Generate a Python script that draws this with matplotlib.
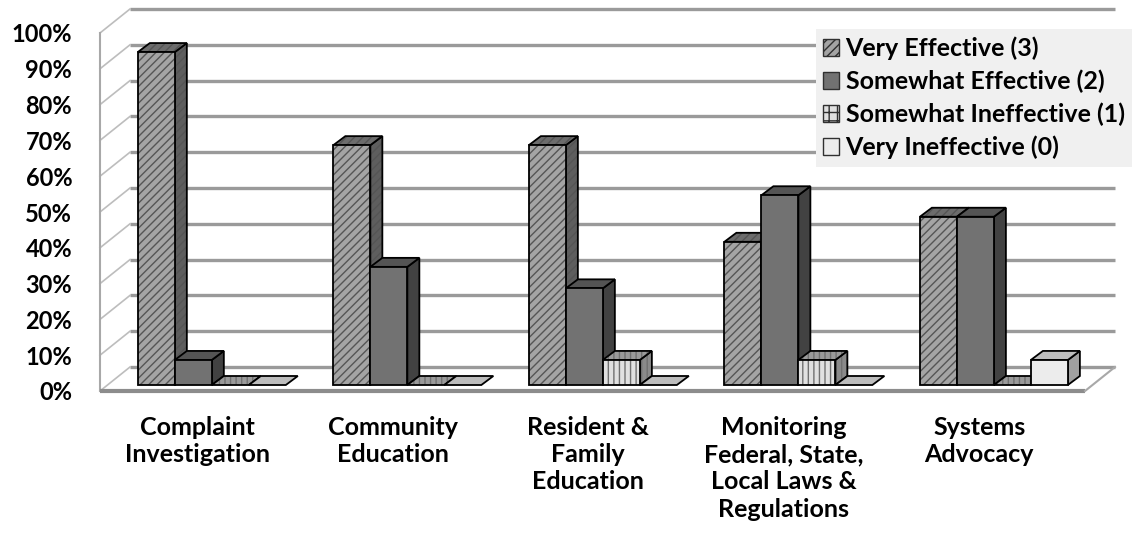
import matplotlib
matplotlib.use("Agg")
import matplotlib.pyplot as plt
from matplotlib.patches import Polygon, Patch

# ---------------- data ----------------
categories = ["Complaint\nInvestigation", "Community\nEducation",
              "Resident &\nFamily\nEducation",
              "Monitoring\nFederal, State,\nLocal Laws &\nRegulations",
              "Systems\nAdvocacy"]
series_names = ["Very Effective (3)", "Somewhat Effective (2)",
                "Somewhat Ineffective (1)", "Very Ineffective (0)"]
very_effective = [0.93, 0.67, 0.67, 0.40, 0.47]
somewhat_effective = [0.07, 0.33, 0.27, 0.53, 0.47]
somewhat_ineffective = [0.0, 0.0, 0.07, 0.07, 0.0]
very_ineffective = [0.0, 0.0, 0.0, 0.0, 0.07]
y_ticks = [0.0, 0.1, 0.2, 0.3, 0.4, 0.5, 0.6, 0.7, 0.8, 0.9, 1.0]
y_tick_labels = ["0%", "10%", "20%", "30%", "40%", "50%", "60%", "70%", "80%", "90%", "100%"]

series_values = [very_effective, somewhat_effective, somewhat_ineffective, very_ineffective]

# ---------------- styles ----------------
styles = [
    dict(front="#a4a4a4", side="#5e5e5e", top="#6c6c6c", hatch="////", hcolor="#555555"),
    dict(front="#727272", side="#424242", top="#545454", hatch=None, hcolor=None),
    dict(front="#e0e0e0", side="#8a8a8a", top="#9a9a9a", hatch="|||", hcolor="#707070"),
    dict(front="#ececec", side="#a0a0a0", top="#bdbdbd", hatch=None, hcolor=None),
]
legend_hatches = ["////", None, "++", None]

plt.rcParams["font.family"] = ["Lato", "DejaVu Sans"]
plt.rcParams["hatch.linewidth"] = 1.0

W, H = 1132, 542
fig = plt.figure(figsize=(W / 100, H / 100), dpi=100)

# axes = front plane of the pseudo-3D chart (pixel geometry)
ax_left_px, ax_right_px, ax_bottom_px, ax_top_px = 100, 1085, 391, 33
ax = fig.add_axes([ax_left_px / W, (H - ax_bottom_px) / H,
                   (ax_right_px - ax_left_px) / W, (ax_bottom_px - ax_top_px) / H])
ax.set_frame_on(False)

xmin, xmax = -0.572, 4.466
ax.set_xlim(xmin, xmax)
ax.set_ylim(0, 1)
px_x = (ax_right_px - ax_left_px) / (xmax - xmin)   # pixels per x unit
px_y = (ax_bottom_px - ax_top_px) / 1.0             # pixels per y unit

# depth offsets (pixels -> data)
back_dx, back_dy = 30 / px_x, 24 / px_y
bar_dx, bar_dy = 12 / px_x, 9 / px_y
bar_base = 6 / px_y
bar_w = 37 / px_x
n_series = len(series_values)
group_w = n_series * bar_w

# ---------------- walls / gridlines ----------------
for v in y_ticks:
    ax.plot([xmin + back_dx, xmax + back_dx], [v + back_dy, v + back_dy],
            color="#9a9a9a", lw=2.4, clip_on=False, zorder=1, solid_capstyle="butt")
    ax.plot([xmin, xmin + back_dx], [v, v + back_dy], color="#bdbdbd", lw=1.2,
            clip_on=False, zorder=1)
ax.plot([xmin, xmin], [0, 1], color="#a8a8a8", lw=1.5, clip_on=False, zorder=1)
ax.plot([xmin, xmax], [0, 0], color="#8c8c8c", lw=3, clip_on=False, zorder=1,
        solid_capstyle="butt")
ax.plot([xmax, xmax + back_dx], [0, back_dy], color="#a8a8a8", lw=1.5, clip_on=False,
        zorder=1)


def face(pts, fc, hatch, hcolor, z):
    ax.add_patch(Polygon(pts, closed=True, facecolor=fc, edgecolor="none", lw=0,
                         zorder=z, clip_on=False))
    if hatch:
        ax.add_patch(Polygon(pts, closed=True, fill=False, hatch=hatch,
                             edgecolor=hcolor, lw=0, zorder=z, clip_on=False))
    ax.add_patch(Polygon(pts, closed=True, fill=False, edgecolor="black", lw=1.3,
                         zorder=z, clip_on=False, joinstyle="miter"))


z = 3
for i in range(len(categories)):
    for k in range(n_series):
        h = series_values[k][i]
        st = styles[k]
        x0 = i - group_w / 2 + k * bar_w
        b = bar_base
        side = [(x0 + bar_w, b), (x0 + bar_w + bar_dx, b + bar_dy),
                (x0 + bar_w + bar_dx, b + h + bar_dy), (x0 + bar_w, b + h)]
        top = [(x0, b + h), (x0 + bar_dx, b + h + bar_dy),
               (x0 + bar_w + bar_dx, b + h + bar_dy), (x0 + bar_w, b + h)]
        front = [(x0, b), (x0 + bar_w, b), (x0 + bar_w, b + h), (x0, b + h)]
        if h > 0:
            face(side, st["side"], st["hatch"], st["hcolor"], z)
            face(top, st["top"], st["hatch"], st["hcolor"], z)
            face(front, st["front"], st["hatch"], st["hcolor"], z)
        else:
            face(top, st["top"], st["hatch"], st["hcolor"], z)
        z += 1

# ---------------- ticks ----------------
ax.set_yticks(y_ticks)
ax.set_yticklabels(y_tick_labels, fontsize=17, fontweight="bold")
ax.tick_params(axis="y", length=0, pad=20)
ax.set_xticks([i - 0.075 for i in range(len(categories))])
ax.set_xticklabels(categories, fontsize=18, fontweight="bold", linespacing=1.22)
ax.tick_params(axis="x", length=0, pad=18)

# ---------------- legend ----------------
handles = [Patch(facecolor=styles[k]["front"], edgecolor="#303030",
                 hatch=legend_hatches[k], lw=1.0) for k in range(n_series)]
leg = fig.legend(handles, series_names, loc="upper right",
                 bbox_to_anchor=(1.0, (H - 29) / H), frameon=True, fancybox=False,
                 facecolor="#f0f0f0", edgecolor="none", framealpha=1,
                 prop=dict(family=["Lato", "DejaVu Sans"], weight="bold", size=18),
                 handlelength=0.65, handleheight=0.65, handletextpad=0.25,
                 labelspacing=0.38, borderpad=0.3, borderaxespad=0)
leg.set_zorder(50)

fig.savefig("out.png", dpi=100)
